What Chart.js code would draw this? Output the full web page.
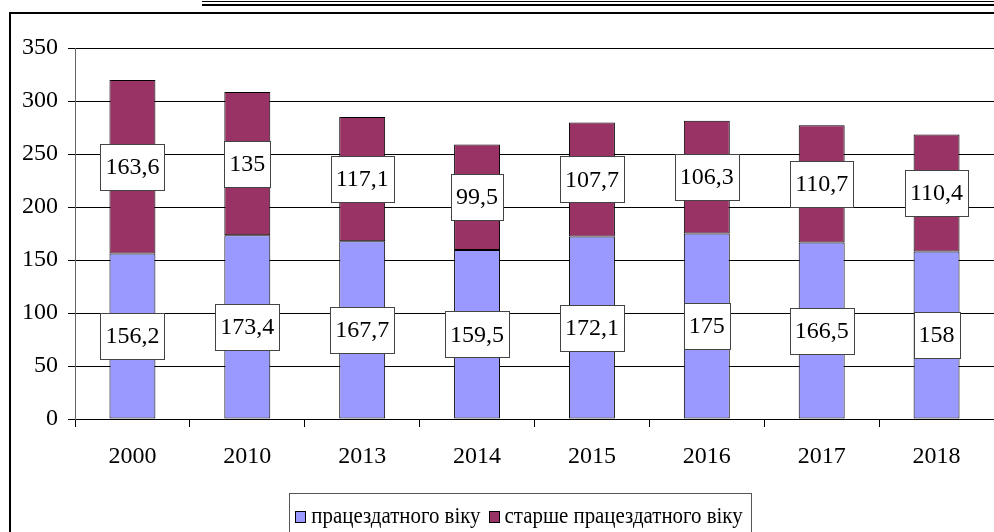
<!DOCTYPE html>
<html>
<head>
<meta charset="utf-8">
<script src="https://cdn.jsdelivr.net/npm/chart.js@4.4.1/dist/chart.umd.min.js"></script>
<style>
    html, body { margin: 0; padding: 0; background: #fff; }
    #wrap { position: relative; width: 994px; height: 532px; }
</style>
</head>
<body>
<div id="wrap"><canvas id="populationChart"></canvas></div>
<script>
/* Data */
const years = ['2000', '2010', '2013', '2014', '2015', '2016', '2017', '2018'];
const workingAge = [156.2, 173.4, 167.7, 159.5, 172.1, 175, 166.5, 158];
const aboveWorkingAge = [163.6, 135, 117.1, 99.5, 107.7, 106.3, 110.7, 110.4];
const seriesNames = ['працездатного віку', 'старше працездатного віку'];
const yMin = 0, yMax = 350, yStep = 50;

const FONT = 'Liberation Serif';

// white boxed value labels in the middle of every bar segment
const boxLabels = {
    id: 'boxLabels',
    afterDatasetsDraw(chart) {
        const ctx = chart.ctx;
        ctx.save();
        ctx.font = '24px "' + FONT + '"';
        ctx.textAlign = 'center';
        ctx.textBaseline = 'middle';
        chart.data.datasets.forEach((ds, i) => {
            chart.getDatasetMeta(i).data.forEach((bar, j) => {
                const txt = String(ds.data[j]).replace('.', ',');
                const w = Math.round(ctx.measureText(txt).width + 10);
                const h = 46;
                const cy = (bar.y + bar.base) / 2;
                const x0 = Math.round(bar.x - w / 2) + 0.5;
                const y0 = Math.round(cy - h / 2) + 0.5;
                ctx.fillStyle = '#fff';
                ctx.fillRect(x0, y0, w, h);
                ctx.strokeStyle = '#444';
                ctx.lineWidth = 1;
                ctx.strokeRect(x0, y0, w, h);
                ctx.fillStyle = '#000';
                ctx.fillText(txt, bar.x, cy + 1);
            });
        });
        ctx.restore();
    }
};

// outer frame, double rule on top and the boxed legend
const frameAndLegend = {
    id: 'frameAndLegend',
    beforeDraw(chart) {
        const ctx = chart.ctx;
        ctx.save();
        ctx.fillStyle = '#fff';
        ctx.fillRect(0, 0, chart.width, chart.height);
        ctx.strokeStyle = '#000';
        ctx.lineWidth = 1;
        ctx.beginPath();
        ctx.moveTo(202, 1.5); ctx.lineTo(994, 1.5);
        ctx.stroke();
        ctx.lineWidth = 2;
        ctx.beginPath();
        ctx.moveTo(202, 5); ctx.lineTo(994, 5);
        ctx.stroke();
        ctx.beginPath();
        ctx.moveTo(10, 532); ctx.lineTo(10, 13); ctx.lineTo(994, 13);
        ctx.stroke();
        ctx.restore();
    },
    afterDraw(chart) {
        const ctx = chart.ctx;
        ctx.save();
        ctx.font = '24px "' + FONT + '"';
        ctx.textBaseline = 'middle';
        const squeeze = 0.87;   // the original legend face is narrower
        const sq = 10, gap = 6, between = 8;
        const items = chart.data.datasets.map(ds => ({
            label: ds.label, color: ds.backgroundColor,
            w: ctx.measureText(ds.label).width * squeeze
        }));
        let total = 0;
        items.forEach((it, k) => { total += sq + gap + it.w + (k ? between : 0); });
        const cx = 519, cy = 517;
        const boxL = Math.round(cx - total / 2 - 6) + 0.5;
        const boxR = Math.round(cx + total / 2 + 8) + 0.5;
        ctx.strokeStyle = '#555';
        ctx.lineWidth = 1;
        ctx.strokeRect(boxL, 493.5, boxR - boxL, 60);
        let x = cx - total / 2;
        items.forEach((it, k) => {
            if (k) x += between;
            ctx.fillStyle = it.color;
            ctx.fillRect(Math.round(x) + 0.5, cy - 6 + 0.5, sq, 11);
            ctx.strokeStyle = '#000';
            ctx.strokeRect(Math.round(x) + 0.5, cy - 6 + 0.5, sq, 11);
            x += sq + gap;
            ctx.save();
            ctx.translate(x, cy);
            ctx.scale(squeeze, 1);
            ctx.fillStyle = '#000';
            ctx.fillText(it.label, 0, 0);
            ctx.restore();
            x += it.w;
        });
        ctx.restore();
    }
};

new Chart(document.getElementById('populationChart'), {
    type: 'bar',
    data: {
        labels: years,
        datasets: [
            {
                label: seriesNames[0],
                data: workingAge,
                backgroundColor: '#9999FF',
                borderColor: '#000',
                borderWidth: 1,
                borderSkipped: false
            },
            {
                label: seriesNames[1],
                data: aboveWorkingAge,
                backgroundColor: '#993366',
                borderColor: '#000',
                borderWidth: 1,
                borderSkipped: false
            }
        ]
    },
    options: {
        responsive: true,
        maintainAspectRatio: false,
        devicePixelRatio: 1,
        animation: false,
        layout: {
            padding: { left: 10, top: 48, right: 0, bottom: 53 }
        },
        datasets: {
            bar: { categoryPercentage: 1, barPercentage: 0.4 }
        },
        plugins: {
            legend: { display: false },
            tooltip: { enabled: false }
        },
        scales: {
            x: {
                stacked: true,
                afterFit(scale) { scale.height = 60; },
                grid: {
                    offset: true,
                    drawOnChartArea: false,
                    tickLength: 8,
                    color: '#000'
                },
                border: { color: '#000' },
                ticks: {
                    color: '#000',
                    padding: 15,
                    font: { family: FONT, size: 24 }
                }
            },
            y: {
                stacked: true,
                min: yMin,
                max: yMax,
                afterFit(scale) { scale.width = 65; },
                grid: {
                    color: '#000',
                    tickLength: 7
                },
                border: { color: '#666' },
                ticks: {
                    stepSize: yStep,
                    color: '#000',
                    padding: 10,
                    font: { family: FONT, size: 24 }
                }
            }
        }
    },
    plugins: [frameAndLegend, boxLabels]
});
</script>
</body>
</html>
